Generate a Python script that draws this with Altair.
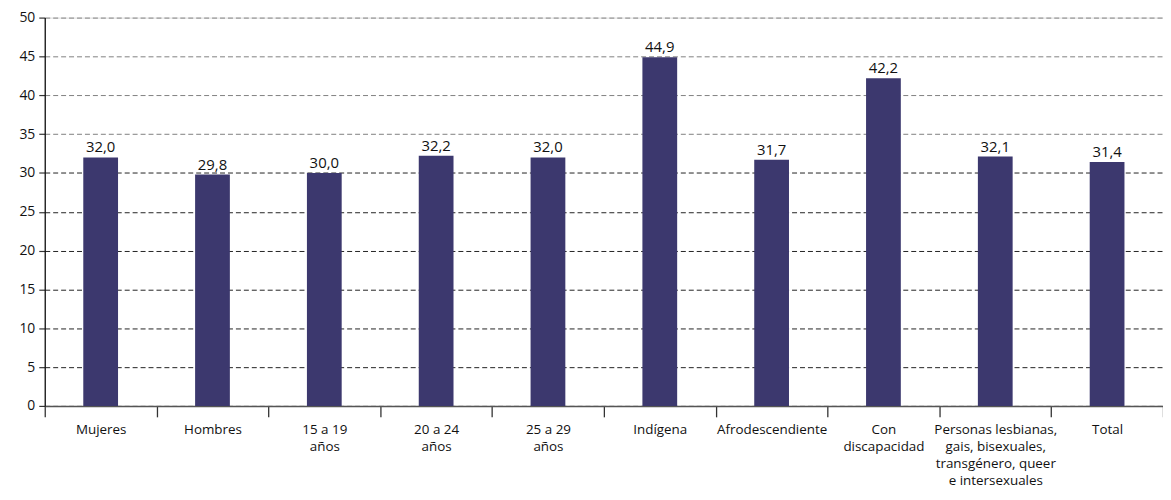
import altair as alt
import pandas as pd

categories = [
    "Mujeres", "Hombres", "15 a 19|años", "20 a 24|años", "25 a 29|años",
    "Indígena", "Afrodescendiente", "Con|discapacidad",
    "Personas lesbianas,|gais, bisexuales,|transgénero, queer|e intersexuales",
    "Total",
]
values = [32.0, 29.8, 30.0, 32.2, 32.0, 44.9, 31.7, 42.2, 32.1, 31.4]
y_ticks = [0, 5, 10, 15, 20, 25, 30, 35, 40, 45, 50]

df = pd.DataFrame({"cat": categories, "val": values})

FONT = "Open Sans"
BAR = "#3c386e"

x = alt.X(
    "cat:N", sort=categories, title=None,
    scale=alt.Scale(paddingInner=0, paddingOuter=0),
    axis=alt.Axis(
        labelAngle=0, labelExpr="split(datum.label, '|')",
        tickBand="extent", tickSize=11, tickColor="#333", tickWidth=1.3,
        domainColor="#555", domainWidth=1.5,
        labelFont=FONT, labelFontSize=13.5, labelColor="#111",
        labelLineHeight=17, labelPadding=6, labelBaseline="top",
        grid=False,
    ),
)
y = alt.Y(
    "val:Q", title=None,
    scale=alt.Scale(domain=[0, 50], nice=False),
    axis=alt.Axis(
        values=y_ticks, labelOverlap=False,
        tickSize=6, tickColor="#333", tickWidth=1.2,
        domainColor="#111", domainWidth=1.3,
        labelFont=FONT, labelFontSize=14, labelColor="#111", labelPadding=4,
        grid=True, gridDash=[5, 3], gridWidth=1,
        gridColor=alt.condition("datum.value <= 30", alt.value("#222"), alt.value("#808080")),
    ),
)

bars = alt.Chart(df).mark_bar(size=35, color=BAR).encode(x=x, y=y)
labels = alt.Chart(df).transform_calculate(
    lab="replace(format(datum.val, '.1f'), '.', ',')"
).mark_text(baseline="bottom", dy=-2, font=FONT, fontSize=15, color="#111").encode(
    x=x,
    y=y,
    text="lab:N",
)

chart = (
    alt.layer(bars, labels)
    .properties(
        width=1126, height=391,
        autosize=alt.AutoSizeParams(type="none"),
        padding={"left": 37, "top": 8, "right": 0, "bottom": 81},
    )
    .configure_view(strokeWidth=0)
    .configure(background="white")
)

chart.save("out.html", embed_options={"renderer": "svg", "actions": False})
